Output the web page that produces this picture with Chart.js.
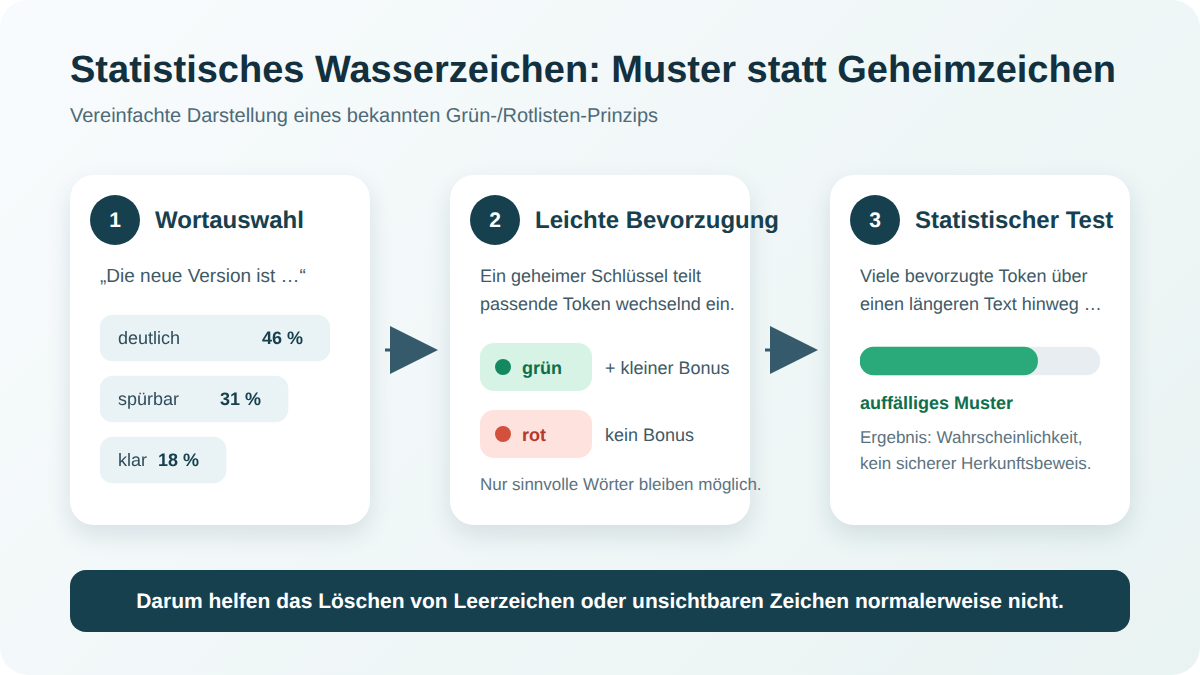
<!DOCTYPE html>
<html lang="de">
<head>
<meta charset="utf-8">
<title>Statistisches Wasserzeichen</title>
<script src="https://cdn.jsdelivr.net/npm/chart.js@4"></script>
<style>
  html, body { margin: 0; padding: 0; background: #fff; }
  body { width: 1200px; height: 675px; overflow: hidden; position: relative; font-family: "Liberation Sans", Arial, sans-serif; text-rendering: geometricPrecision; }
  #bg { position: absolute; left: 0; top: 0; width: 1200px; height: 675px; border-radius: 28px; background: linear-gradient(135deg, #f8fbfd 0%, #e9f3f2 100%); }
  .t { position: absolute; white-space: nowrap; }
  .card { position: absolute; top: 175px; width: 300px; height: 350px; background: #fff; border-radius: 24px; box-shadow: 0 10px 24px rgba(20, 60, 80, 0.12); }
  .num { position: absolute; top: 195px; width: 50px; height: 50px; line-height: 51px; border-radius: 50%; background: #17404f; color: #fff; font-weight: 700; font-size: 21px; text-align: center; }
  .head { top: 207px; font-size: 24px; line-height: 28px; font-weight: 700; color: #17404f; }
  .body { font-size: 18px; line-height: 20px; color: #405a67; }
  .small { font-size: 17px; line-height: 20px; color: #5b7380; }
  .strong { font-size: 18px; line-height: 20px; font-weight: 700; }
  .tag { position: absolute; left: 480px; width: 112px; height: 48px; border-radius: 14px; }
  .dot { position: absolute; left: 495px; width: 16px; height: 16px; border-radius: 50%; }
  .arrow { position: absolute; top: 320px; width: 60px; height: 60px; }
  canvas { position: absolute; }
  #footer { position: absolute; left: 70px; top: 570px; width: 1060px; height: 62px; line-height: 64px; border-radius: 16px; background: #17404f; color: #fff; font-weight: 700; font-size: 21px; text-align: center; }
</style>
</head>
<body>
<div id="bg"></div>
<div class="t" style="left:70px;top:47px;font-size:38px;line-height:46px;font-weight:700;color:#12303d">Statistisches Wasserzeichen: Muster statt Geheimzeichen</div>
<div class="t" style="left:70px;top:104px;font-size:20px;line-height:24px;color:#4d6a77">Vereinfachte Darstellung eines bekannten Grün-/Rotlisten-Prinzips</div>

<div class="card" style="left:70px"></div>
<div class="card" style="left:450px"></div>
<div class="card" style="left:830px"></div>

<svg class="arrow" style="left:380px" viewBox="0 0 60 60"><rect x="5" y="28.5" width="6" height="3" fill="#355a6b"/><path d="M10 6 L58 30 L10 54 Z" fill="#355a6b"/></svg>
<svg class="arrow" style="left:760px" viewBox="0 0 60 60"><rect x="5" y="28.5" width="6" height="3" fill="#355a6b"/><path d="M10 6 L58 30 L10 54 Z" fill="#355a6b"/></svg>

<div class="num" style="left:90px">1</div>
<div class="t head" style="left:155px">Wortauswahl</div>
<div class="t body" style="left:100px;top:267px;font-size:19px">„Die neue Version ist …“</div>
<canvas id="chartWoerter" style="left:100px;top:300px"></canvas>

<div class="num" style="left:470px">2</div>
<div class="t head" style="left:535px">Leichte Bevorzugung</div>
<div class="t body" style="left:480px;top:266px">Ein geheimer Schlüssel teilt</div>
<div class="t body" style="left:480px;top:294px">passende Token wechselnd ein.</div>
<div class="tag" style="top:343px;background:#d7f3e6"></div>
<div class="dot" style="top:359px;background:#14895f"></div>
<div class="t strong" style="left:522px;top:358px;color:#0f6e4c">grün</div>
<div class="t body" style="left:605px;top:358px">+ kleiner Bonus</div>
<div class="tag" style="top:410px;background:#fde2de"></div>
<div class="dot" style="top:426px;background:#d2503c"></div>
<div class="t strong" style="left:522px;top:425px;color:#b23a2a">rot</div>
<div class="t body" style="left:605px;top:425px">kein Bonus</div>
<div class="t small" style="left:480px;top:475px">Nur sinnvolle Wörter bleiben möglich.</div>

<div class="num" style="left:850px">3</div>
<div class="t head" style="left:915px">Statistischer Test</div>
<div class="t body" style="left:860px;top:266px">Viele bevorzugte Token über</div>
<div class="t body" style="left:860px;top:294px">einen längeren Text hinweg …</div>
<canvas id="chartMuster" style="left:860px;top:341px"></canvas>
<div class="t strong" style="left:860px;top:393px;color:#0f6e4c">auffälliges Muster</div>
<div class="t small" style="left:860px;top:428px">Ergebnis: Wahrscheinlichkeit,</div>
<div class="t small" style="left:860px;top:454px">kein sicherer Herkunftsbeweis.</div>

<div id="footer">Darum helfen das Löschen von Leerzeichen oder unsichtbaren Zeichen normalerweise nicht.</div>

<script>
// Daten
const woerter = ['deutlich', 'spürbar', 'klar'];
const anteile = ['46 %', '31 %', '18 %'];
const balkenLaenge = [230, 188, 126];  // Länge der Balken wie im Bild, nicht proportional zu den Anteilen
const musterLabel = ['Muster'];
const musterWert = [74];
const musterSkala = [100];

Chart.defaults.animation = false;
Chart.defaults.responsive = false;
Chart.defaults.font.family = '"Liberation Sans", Arial, sans-serif';

// schreibt Wort und Prozentwert in jeden Balken
const anteilPlugin = {
  id: 'anteilPlugin',
  afterDatasetsDraw(chart) {
    const ctx = chart.ctx;
    ctx.save();
    ctx.textBaseline = 'middle';
    ctx.textRendering = 'geometricPrecision';
    chart.getDatasetMeta(0).data.forEach(function(bar, i) {
      ctx.font = '18px "Liberation Sans", Arial, sans-serif';
      ctx.fillStyle = '#2f4d5b';
      ctx.textAlign = 'left';
      ctx.fillText(woerter[i], chart.scales.x.left + 18, bar.y + 1);
      ctx.font = 'bold 18px "Liberation Sans", Arial, sans-serif';
      ctx.fillStyle = '#17404f';
      ctx.textAlign = 'right';
      ctx.fillText(anteile[i], bar.x - 27, bar.y + 1);
    });
    ctx.restore();
  }
};

function versteckteAchse(max) {
  return { display: false, min: 0, max: max };
}

const cvW = document.getElementById('chartWoerter');
cvW.width = 230;
cvW.height = 200;
new Chart(cvW, {
  type: 'bar',
  data: {
    labels: woerter,
    datasets: [{
      data: balkenLaenge,
      backgroundColor: '#e9f2f5',
      borderRadius: 13,
      borderSkipped: false,
      barThickness: 46
    }]
  },
  options: {
    indexAxis: 'y',
    layout: { padding: { top: 7.5, bottom: 9.5, left: 0, right: 0 } },
    plugins: { legend: { display: false }, tooltip: { enabled: false } },
    scales: {
      x: versteckteAchse(230),
      y: { display: false }
    }
  },
  plugins: [anteilPlugin]
});

const cvM = document.getElementById('chartMuster');
cvM.width = 240;
cvM.height = 40;
new Chart(cvM, {
  type: 'bar',
  data: {
    labels: musterLabel,
    datasets: [
      { data: musterWert, backgroundColor: '#2aaa7a', borderRadius: 14, borderSkipped: false, barThickness: 28 },
      { data: musterSkala, backgroundColor: '#e8edf1', borderRadius: 14, borderSkipped: false, barThickness: 28 }
    ]
  },
  options: {
    indexAxis: 'y',
    layout: { padding: 0 },
    plugins: { legend: { display: false }, tooltip: { enabled: false } },
    datasets: { bar: { grouped: false } },
    scales: {
      x: versteckteAchse(100),
      y: { display: false }
    }
  }
});
</script>
</body>
</html>
